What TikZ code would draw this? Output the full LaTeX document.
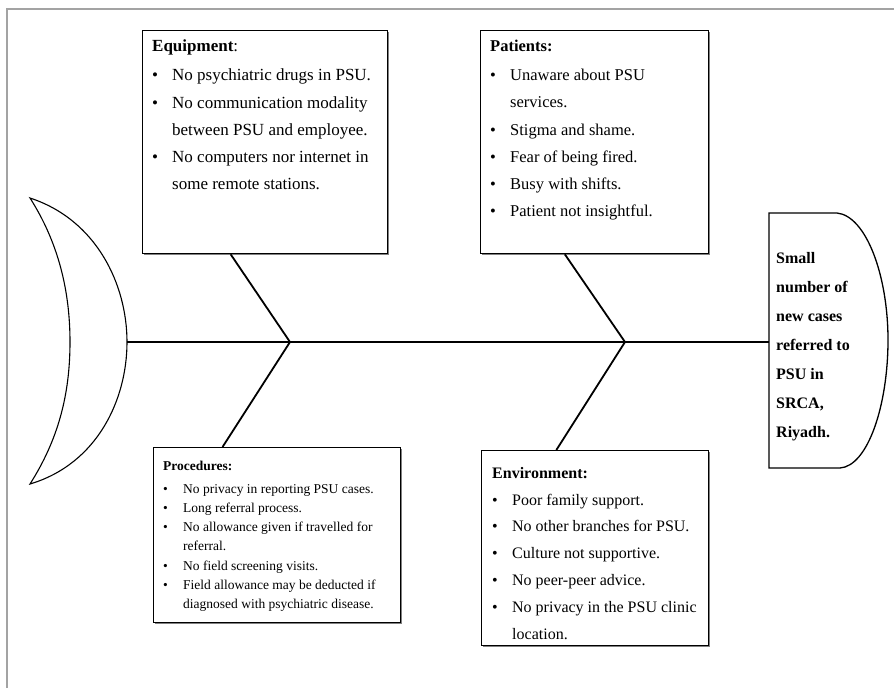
\documentclass[tikz,border=0pt]{standalone}
\usepackage{fontspec}
\setmainfont{Liberation Serif}
\usetikzlibrary{calc, shadows}
\definecolor{framegray}{HTML}{A3A3A3}
\newcommand{\bul}[1]{\makebox[20pt][l]{\textbullet}#1}
\newcommand{\cnt}[1]{\hspace*{20pt}#1}
\tikzset{
  causebox/.style={draw, line width=1.3pt, fill=white, anchor=north west, inner sep=0pt,
    drop shadow={shadow xshift=1.3pt, shadow yshift=-1.3pt, fill=black!50, opacity=1}},
  causetext/.style={anchor=north west, align=left, inner sep=0pt,
    font=\fontsize{16.5}{27.3}\selectfont},
  smalltext/.style={causetext, font=\fontsize{13.5}{19.2}\selectfont},
  bone/.style={line width=1.8pt},
}

\begin{document}
\begin{tikzpicture}[x=1pt, y=-1pt]
  \useasboundingbox (0,0) rectangle (894,688);
  \fill[white] (0,0) rectangle (894,688);
  % --- Frame ---
  \draw[framegray, line width=2pt] (7,688) -- (7,9) -- (894,9);

  % --- Tail of the fish ---
  \draw[line width=1.1pt] (30,198) .. controls (97,220) and (127,285) .. (127,342)
    .. controls (127,400) and (97,464) .. (30,484)
    .. controls (58,440) and (70,395) .. (70,342)
    .. controls (70,290) and (58,242) .. (30,198) -- cycle;
  \coordinate (tail) at (127,342);

  % --- Head: the problem ---
  \draw[line width=1.3pt] (769,213) -- (837,213)
    .. controls (866,216) and (888,275) .. (888,340)
    .. controls (888,405) and (868,466) .. (840,468) -- (769,468) -- cycle;
  \coordinate (head) at (769,342);
  \node (effect) [anchor=north west, align=left, inner sep=0pt,
    font=\fontsize{16}{29}\selectfont\bfseries] at (776,252)
    {Small\\number of\\new cases\\referred to\\PSU in\\SRCA,\\Riyadh.};

  % --- Spine ---
  \draw[line width=2.4pt] (tail) -- (head);
  \coordinate (j1) at (290,342);
  \coordinate (j2) at (625,342);

  % --- Equipment ---
  \node (equip) [causebox, minimum width=245pt, minimum height=223pt] at (142,30) {};
  \node (equiptxt) [causetext, font=\fontsize{17}{27.3}\selectfont]
    at ($(equip.north west)+(10pt,-10pt)$)
    {\textbf{Equipment}:\\[1.5pt]
     \bul{No psychiatric drugs in PSU.}\\
     \bul{No communication modality}\\
     \cnt{between PSU and employee.}\\
     \bul{No computers nor internet in}\\
     \cnt{some remote stations.}};
  \draw[bone] ($(equip.south west)!0.36!(equip.south east)$) -- (j1);

  % --- Patients ---
  \node (pat) [causebox, minimum width=228pt, minimum height=223pt] at (480,30) {};
  \node (pattxt) [causetext] at ($(pat.north west)+(10pt,-10pt)$)
    {\textbf{Patients:}\\[1.5pt]
     \bul{Unaware about PSU}\\
     \cnt{services.}\\
     \bul{Stigma and shame.}\\
     \bul{Fear of being fired.}\\
     \bul{Busy with shifts.}\\
     \bul{Patient not insightful.}};
  \draw[bone] ($(pat.south west)!0.37!(pat.south east)$) -- (j2);

  % --- Procedures ---
  \node (proc) [causebox, minimum width=247pt, minimum height=175pt] at (153,447) {};
  \node (proctxt) [smalltext] at ($(proc.north west)+(10pt,-14pt)$)
    {\textbf{Procedures:}\\[3.5pt]
     \bul{No privacy in reporting PSU cases.}\\
     \bul{Long referral process.}\\
     \bul{No allowance given if travelled for}\\
     \cnt{referral.}\\
     \bul{No field screening visits.}\\
     \bul{Field allowance may be deducted if}\\
     \cnt{diagnosed with psychiatric disease.}};
  \draw[bone] (j1) -- ($(proc.north west)!0.28!(proc.north east)$);

  % --- Environment ---
  \node (env) [causebox, minimum width=227pt, minimum height=195pt] at (481,450) {};
  \node (envtxt) [causetext, font=\fontsize{16}{26.8}\selectfont]
    at ($(env.north west)+(11pt,-17pt)$)
    {\textbf{Environment:}\\
     \bul{Poor family support.}\\
     \bul{No other branches for PSU.}\\
     \bul{Culture not supportive.}\\
     \bul{No peer-peer advice.}\\
     \bul{No privacy in the PSU clinic}\\
     \cnt{location.}};
  \draw[bone] (j2) -- ($(env.north west)!0.33!(env.north east)$);
\end{tikzpicture}
\end{document}
